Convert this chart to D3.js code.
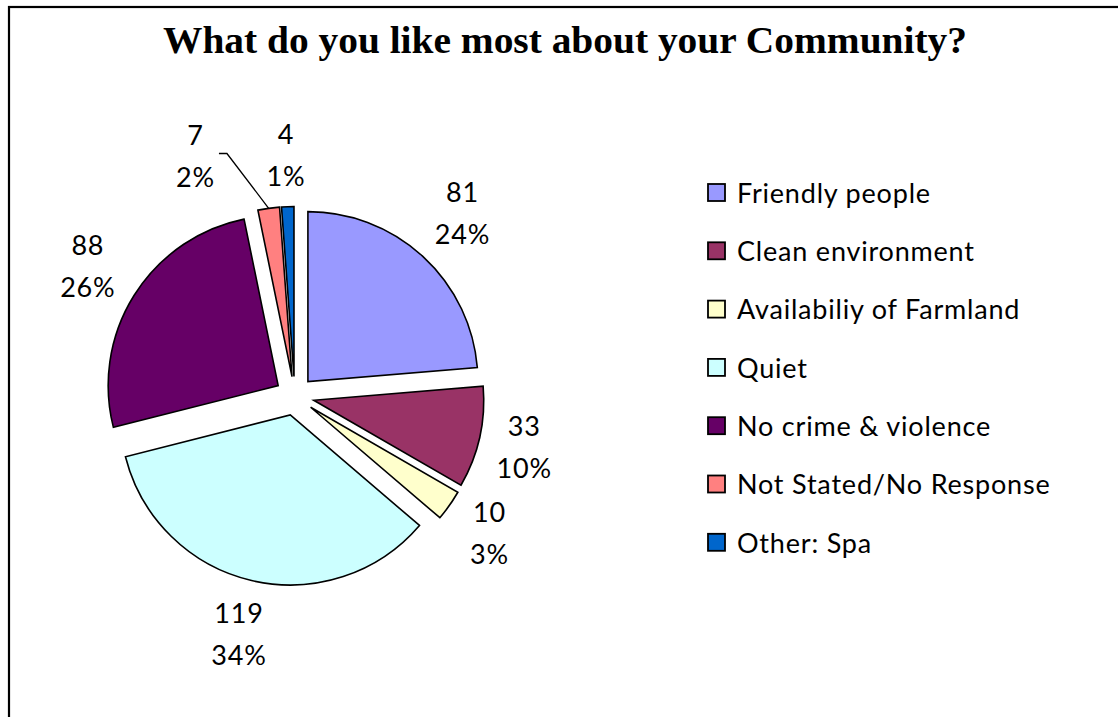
<!DOCTYPE html>
<html>
<head>
<meta charset="utf-8">
<script src="https://cdn.jsdelivr.net/npm/d3@7"></script>
<style>
  html, body { margin: 0; padding: 0; background: #fff; }
  svg { display: block; }
</style>
</head>
<body>
<svg id="chart" width="1118" height="717"></svg>
<script>
// Survey answers: what residents like most about their community
const categories = [
  "Friendly people",
  "Clean environment",
  "Availabiliy of Farmland",
  "Quiet",
  "No crime & violence",
  "Not Stated/No Response",
  "Other: Spa"
];
const counts = [81, 33, 10, 119, 88, 7, 4];
const percentLabels = ["24%", "10%", "3%", "34%", "26%", "2%", "1%"];
const colors = ["#9999FF", "#993366", "#FFFFCC", "#CCFFFF", "#660066", "#FF8080", "#0066CC"];
const titleText = "What do you like most about your Community?";

const W = 1118, H = 717;
const svg = d3.select("#chart");
const labelFont = "Lato, 'Open Sans', sans-serif";
const labelSize = 27, labelSpacing = 0.8;

// chart frame
svg.append("rect")
  .attr("x", 9).attr("y", 7)
  .attr("width", W + 20).attr("height", H + 20)
  .attr("fill", "#fff").attr("stroke", "#000").attr("stroke-width", 2.2);

// title
svg.append("text")
  .attr("x", 565).attr("y", 53)
  .attr("text-anchor", "middle")
  .attr("font-family", "'Liberation Serif', 'DejaVu Serif', serif")
  .attr("font-weight", "bold")
  .attr("font-size", 37)
  .attr("textLength", 804)
  .attr("lengthAdjust", "spacingAndGlyphs")
  .text(titleText);

// pie geometry
const cx = 294.7, cy = 396, radius = 170, explode = 19.5;
const pie = d3.pie().sort(null).value(d => d.count);
const arc = d3.arc().innerRadius(0).outerRadius(radius);
const rows = categories.map((c, i) => ({ name: c, count: counts[i], pct: percentLabels[i], color: colors[i] }));
const arcs = pie(rows);

const g = svg.append("g").attr("transform", `translate(${cx},${cy})`);
const mid = a => (a.startAngle + a.endAngle) / 2;
const dir = a => [Math.sin(mid(a)), -Math.cos(mid(a))];

const slices = g.selectAll("g.slice").data(arcs).join("g")
  .attr("class", "slice")
  .attr("transform", d => { const [ux, uy] = dir(d); return `translate(${ux * explode},${uy * explode})`; });

slices.append("path")
  .attr("d", arc)
  .attr("fill", d => d.data.color)
  .attr("stroke", "#000")
  .attr("stroke-width", 1.6)
  .attr("stroke-linejoin", "miter");

// data labels: value over percentage, placed just outside each slice
const lineGap = 42, labelGap = 10;
const labelShift = { "Not Stated/No Response": -66 };

arcs.forEach(d => {
  const [ux, uy] = dir(d);
  const lg = g.append("g");
  const mk = (y, txt) => lg.append("text").attr("text-anchor", "middle").attr("y", y)
    .attr("dy", "0.35em").attr("font-family", labelFont).attr("font-size", labelSize)
    .attr("letter-spacing", labelSpacing).attr("fill", "#000").text(txt);
  const t1 = mk(-lineGap / 2, d.data.count);
  const t2 = mk(lineGap / 2, d.data.pct);
  const w = Math.max(t1.node().getComputedTextLength(), t2.node().getComputedTextLength());
  const h = 80;
  const reach = Math.abs(ux) * w / 2 + Math.abs(uy) * h / 2;
  const dist = radius + explode + reach + labelGap;
  let lx = ux * dist, ly = uy * dist;
  const shift = labelShift[d.data.name];
  if (shift) {
    lx += shift;
    // leader line from label to the middle of the slice's outer edge
    const ex = ux * (radius + explode), ey = uy * (radius + explode);
    const sx = lx + w / 2 + 4, sy = ly - 3;
    g.append("path")
      .attr("d", d3.line()([[sx, sy], [sx + 8, sy], [ex, ey]]))
      .attr("fill", "none").attr("stroke", "#000").attr("stroke-width", 1.3);
  }
  lg.attr("transform", `translate(${lx},${ly})`);
});

// legend
const legend = svg.append("g").attr("transform", "translate(708,193)");
const rowStep = 58.3;
const items = legend.selectAll("g").data(rows).join("g")
  .attr("transform", (d, i) => `translate(0,${i * rowStep})`);
items.append("rect")
  .attr("x", 0).attr("y", -9).attr("width", 17).attr("height", 17)
  .attr("fill", d => d.color).attr("stroke", "#000").attr("stroke-width", 1.8);
items.append("text")
  .attr("x", 29).attr("y", 0).attr("dy", "0.36em")
  .attr("font-family", labelFont).attr("font-size", labelSize)
  .attr("letter-spacing", labelSpacing).attr("fill", "#000")
  .text(d => d.name);
</script>
</body>
</html>
